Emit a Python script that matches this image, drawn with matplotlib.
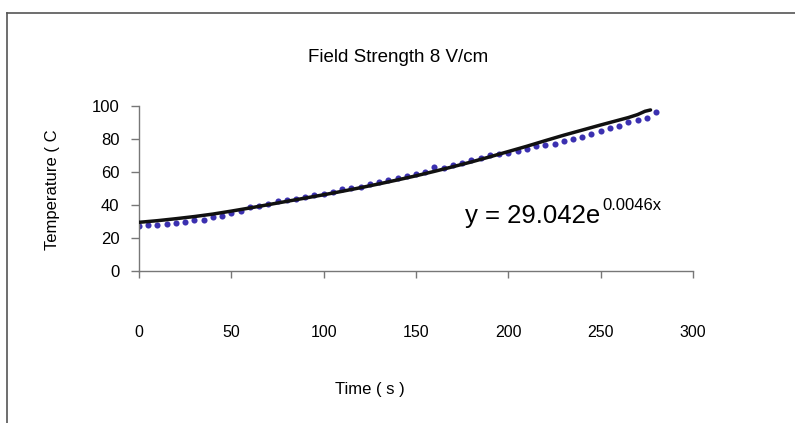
import numpy as np
import matplotlib
matplotlib.use("Agg")
import matplotlib.pyplot as plt
from matplotlib.lines import Line2D

# 数据点（蓝色圆点）：时间 s，温度 C
time_pts = [0, 5, 10, 15, 20, 25, 30, 35, 40, 45, 50, 55, 60, 65, 70, 75, 80,
            85, 90, 95, 100, 105, 110, 115, 120, 125, 130, 135, 140, 145, 150,
            155, 160, 165, 170, 175, 180, 185, 190, 195, 200, 205, 210, 215,
            220, 225, 230, 235, 240, 245, 250, 255, 260, 265, 270, 275, 280]
temp_pts = [27.5, 28.0, 28.0, 28.3, 29.0, 29.5, 30.8, 31.0, 32.5, 33.3, 35.0,
            36.5, 39.0, 39.5, 40.5, 42.5, 43.0, 43.5, 45.0, 46.0, 46.8, 48.0,
            49.5, 50.0, 51.0, 52.5, 54.0, 55.0, 56.5, 57.5, 58.5, 60.0, 63.0,
            62.5, 64.0, 65.5, 67.0, 68.5, 70.0, 71.0, 71.5, 72.5, 74.0, 75.5,
            76.5, 77.0, 78.5, 79.8, 81.3, 83.0, 84.8, 86.5, 87.8, 90.0, 91.3,
            92.7, 96.3]

# 黑色曲线
time_line = [0, 10, 20, 30, 40, 50, 60, 70, 80, 90, 100, 110, 120, 130, 140,
             150, 160, 170, 180, 190, 200, 210, 220, 230, 240, 250, 260, 265,
             270, 274, 277]
temp_line = [29.5, 30.5, 31.7, 33.0, 34.5, 36.3, 38.2, 40.2, 42.2, 44.2, 46.2,
             48.3, 50.5, 52.8, 55.2, 57.7, 60.4, 63.2, 66.1, 69.2, 72.4, 75.6,
             79.0, 82.3, 85.4, 88.5, 91.5, 93.0, 94.8, 96.8, 97.6]

x_ticks = [0, 50, 100, 150, 200, 250, 300]
y_ticks = [0, 20, 40, 60, 80, 100]

plt.rcParams['font.family'] = ['Liberation Sans', 'DejaVu Sans']

fig = plt.figure(figsize=(7.95, 4.23), dpi=100)
W, H = 795, 423
ax = fig.add_axes([139 / W, 1 - 271 / H, 554 / W, 165 / H])

ax.plot(time_pts, temp_pts, 'o', color='#3b30b0', markersize=4.4,
        markeredgewidth=0, zorder=2)
ax.plot(time_line, temp_line, color='#111111', linewidth=2.5, zorder=3,
        solid_capstyle='round')

ax.set_xlim(0, 300)
ax.set_ylim(0, 100)
ax.set_xticks(x_ticks)
ax.set_yticks(y_ticks)
ax.tick_params(axis='x', direction='out', length=5, width=1, color='#777777',
               pad=34, labelsize=11.5)
ax.tick_params(axis='y', direction='out', length=6, width=1, color='#777777',
               pad=8, labelsize=12)
for s in ('top', 'right'):
    ax.spines[s].set_visible(False)
for s in ('left', 'bottom'):
    ax.spines[s].set_color('#777777')
    ax.spines[s].set_linewidth(1)

fig.text(398 / W, 1 - 57 / H, 'Field Strength 8 V/cm', ha='center',
         va='center', fontsize=13.5)
fig.text(370 / W, 1 - 389 / H, 'Time ( s )', ha='center', va='center',
         fontsize=12)
fig.text(53 / W, 1 - 190 / H, 'Temperature ( C', ha='center', va='center',
         rotation=90, fontsize=12)

fig.text(465 / W, 1 - 216 / H, 'y = 29.042e', ha='left', va='center',
         fontsize=18.5)
fig.text(602 / W, 1 - 205 / H, '0.0046x', ha='left', va='center',
         fontsize=12)

# 外框
fig.add_artist(Line2D([7 / W, 1], [1 - 13 / H, 1 - 13 / H], color='#555555',
                      linewidth=1.2, transform=fig.transFigure))
fig.add_artist(Line2D([7 / W, 7 / W], [0, 1 - 13 / H], color='#555555',
                      linewidth=1.2, transform=fig.transFigure))

fig.savefig('out.png', dpi=100)
